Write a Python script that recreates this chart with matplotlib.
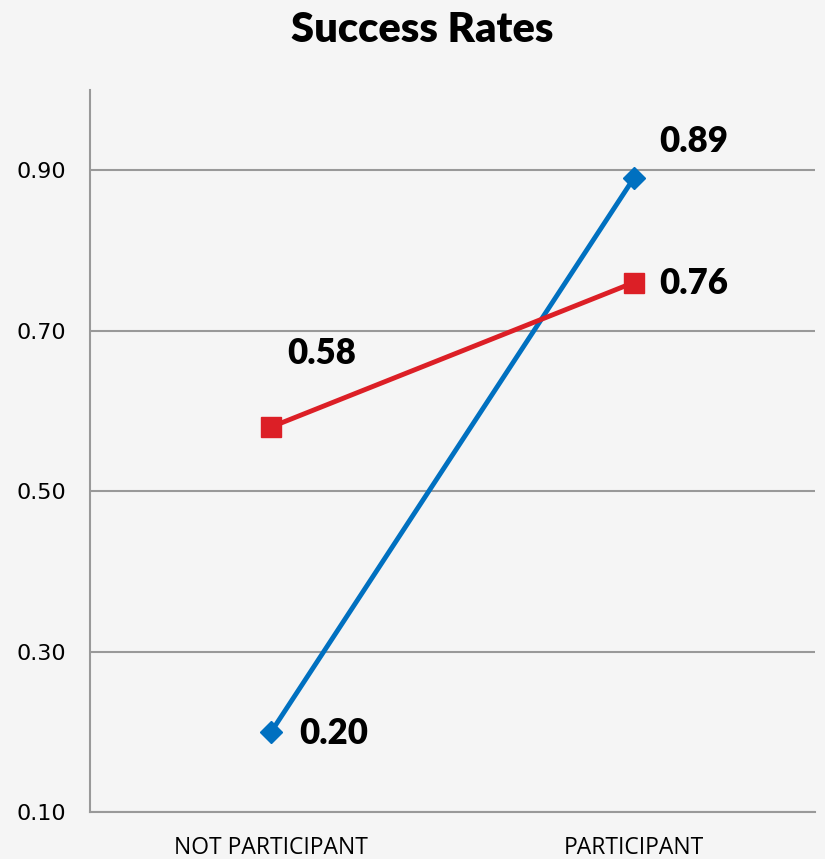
import matplotlib.pyplot as plt

categories = ["NOT PARTICIPANT", "PARTICIPANT"]
blue_vals = [0.20, 0.89]
red_vals = [0.58, 0.76]
yticks = [0.10, 0.30, 0.50, 0.70, 0.90]

bg = "#f5f5f5"
fig = plt.figure(figsize=(8.25, 8.59), dpi=100, facecolor=bg)
ax = fig.add_axes([90/825, 1-812/859, 725/825, 722/859], facecolor=bg)

x = list(range(len(categories)))
ax.plot(x, blue_vals, color="#0070c0", lw=3.5, marker="D", markersize=11, zorder=3)
ax.plot(x, red_vals, color="#dc1f26", lw=3.5, marker="s", markersize=14, zorder=3)

# value labels (offsets in pixels)
blue_off = [(62, -2), (60, 37)]
red_off = [(50, 73), (60, -1)]
for i in x:
    ax.annotate(f"{blue_vals[i]:.2f}", (x[i], blue_vals[i]), xytext=blue_off[i],
                textcoords="offset pixels", ha="center", va="center",
                fontsize=25, fontweight="heavy", family="Lato")
    ax.annotate(f"{red_vals[i]:.2f}", (x[i], red_vals[i]), xytext=red_off[i],
                textcoords="offset pixels", ha="center", va="center",
                fontsize=25, fontweight="heavy", family="Lato")

ax.set_xlim(-0.5, 1.5)
ax.set_ylim(0.1, 1.0)
ax.set_yticks(yticks)
ax.set_yticklabels([f"{v:.2f}" for v in yticks], fontsize=16, family="DejaVu Sans")
ax.set_xticks(x)
ax.set_xticklabels(categories, fontsize=16.5, family="Open Sans")
ax.tick_params(axis="x", length=0, pad=17)
ax.tick_params(axis="y", length=0, pad=17)
ax.yaxis.grid(True, color="#999999", lw=1.5)
ax.set_axisbelow(True)
for s in ["top", "right"]:
    ax.spines[s].set_visible(False)
for s in ["left", "bottom"]:
    ax.spines[s].set_color("#999999")
    ax.spines[s].set_linewidth(1.5)

fig.text(422/825, 1-30/859, "Success Rates", ha="center", va="center",
         fontsize=30, fontweight="heavy", family="Lato")

fig.savefig("out.png", dpi=100, facecolor=bg)
